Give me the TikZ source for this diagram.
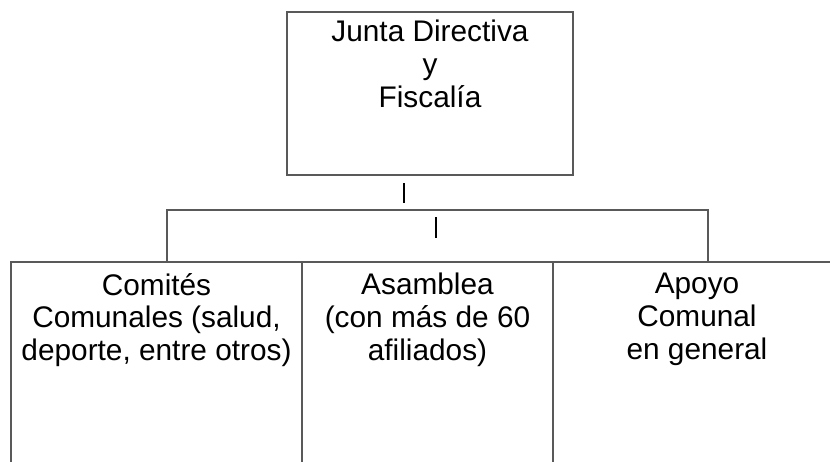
\documentclass[tikz,border=0pt]{standalone}
\usepackage{fontspec}
\setmainfont{Liberation Sans}
\usetikzlibrary{positioning}
\tikzset{
  caja/.style={draw=black!65, line width=0.75pt, rectangle, inner sep=0pt, outer sep=0pt, minimum height=110pt},
  texto/.style={align=center, inner sep=0pt, font=\fontsize{14.9}{16.3}\selectfont},
  enlace/.style={draw=black!65, line width=0.75pt},
  trazo/.style={black, line width=1.1pt}
}
\begin{document}
\begin{tikzpicture}[x=0.5pt,y=-0.5pt]
    \clip (0,0) rectangle (830,461);
    % Junta Directiva
    \node[caja, anchor=north west, minimum width=143pt, minimum height=81.5pt] (junta) at (287,12) {};
    \node[texto, anchor=north] (junta-txt) at ([yshift=-4pt]junta.north) {Junta Directiva\\y\\Fiscalía};
    % Comites, Asamblea, Apoyo
    \node[caja, anchor=north west, minimum width=145.5pt] (comites) at (11,262) {};
    \node[caja, right=0pt of comites, minimum width=125.5pt] (asamblea) {};
    \node[caja, right=0pt of asamblea, minimum width=144pt] (apoyo) {};
    \foreach \caja/\txt in {comites/{Comités\\Comunales (salud,\\deporte, entre otros)},
                            asamblea/{Asamblea\\(con más de 60\\afiliados)},
                            apoyo/{Apoyo\\Comunal\\en general}}
        \node[texto, anchor=north] (\caja-txt) at ([yshift=-5.5pt]\caja.north) {\txt};
    % Conexiones
    \coordinate (barra-izq) at (167,210);
    \coordinate (barra-der) at (708,210);
    \draw[enlace] (comites.north -| barra-izq) -- (barra-izq) -- (barra-der) -- (apoyo.north -| barra-der);
    \draw[trazo] ([shift={(-26,8)}]junta.south) -- ([shift={(-26,28)}]junta.south);
    \draw[trazo] ([shift={(6,42)}]junta.south) -- ([shift={(6,63)}]junta.south);
\end{tikzpicture}
\end{document}
